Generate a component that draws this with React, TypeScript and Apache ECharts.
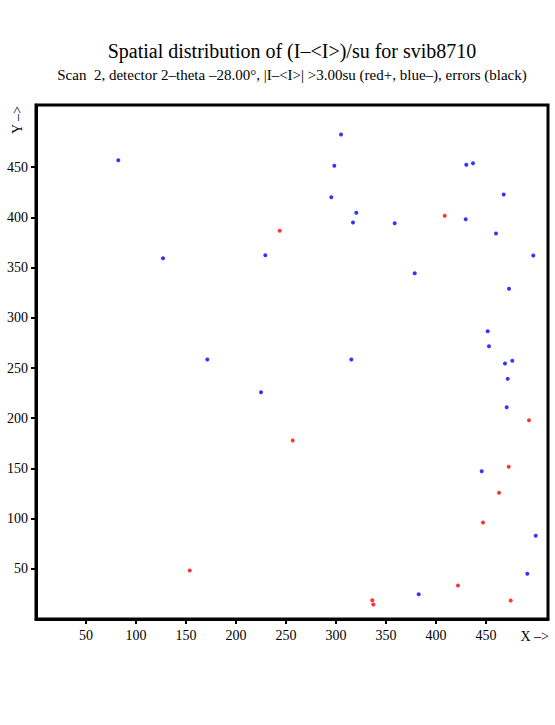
import React, { useEffect, useRef } from "react";
import * as echarts from "echarts";

const titleText = "Spatial distribution of (I\u2013<I>)/su for svib8710";
const subtitleText =
  "Scan  2, detector 2\u2013theta \u201328.00\u00b0, |I\u2013<I>| >3.00su (red+, blue\u2013), errors (black)";

const xTicks = [50, 100, 150, 200, 250, 300, 350, 400, 450];
const yTicks = [50, 100, 150, 200, 250, 300, 350, 400, 450];

// positive deviations (red)
const redX = [243.7, 408.7, 153.7, 256.7, 336.3, 337.3, 493, 472.7, 463, 447, 422, 474.7];
const redY = [386.7, 401.6, 48.3, 177.8, 18.7, 14.4, 198.0, 151.6, 125.7, 96.1, 33.4, 18.4];

// negative deviations (blue)
const blueX = [
  82.3, 127, 171.3, 305, 298.3, 295.3, 320.3, 317, 229.3, 315.3, 430.3, 437, 467.7, 429.7,
  358.7, 460, 497.3, 378.7, 473, 451.7, 453, 469, 476.3, 225, 471.7, 470.7, 445.7, 499.7,
  491.3, 382.7,
];
const blueY = [
  457.0, 359.4, 258.5, 482.6, 451.4, 420.1, 404.6, 394.9, 362.4, 258.5, 452.4, 454.0, 422.8,
  398.2, 394.2, 384.0, 362.1, 344.4, 328.9, 286.7, 271.7, 254.5, 257.2, 225.9, 239.2, 211.0,
  147.2, 82.9, 45.0, 24.7,
];

const FONT = "'Liberation Serif', 'Times New Roman', serif";

export default function App() {
  const ref = useRef<HTMLDivElement>(null);
  useEffect(() => {
    if (!ref.current) return;
    const chart = echarts.init(ref.current, undefined, { renderer: "svg" });
    const red = redX.map((x, i) => [x, redY[i]]);
    const blue = blueX.map((x, i) => [x, blueY[i]]);
    chart.setOption({
      animation: false,
      backgroundColor: "#ffffff",
      grid: {
        left: 36,
        right: 7,
        top: 105,
        bottom: 106,
        show: true,
        borderColor: "#000",
        borderWidth: 3,
        backgroundColor: "transparent",
      },
      xAxis: {
        type: "value",
        min: 0,
        max: 512,
        interval: 50,
        splitLine: { show: false },
        axisLine: { show: true, lineStyle: { color: "#000", width: 3 } },
        axisTick: {
          show: true,
          inside: false,
          length: 5,
          lineStyle: { color: "#000", width: 2 },
          customValues: xTicks,
        },
        axisLabel: {
          show: true,
          margin: 9,
          color: "#000",
          fontFamily: FONT,
          fontSize: 14,
          customValues: xTicks,
        },
      },
      yAxis: {
        type: "value",
        min: 0,
        max: 512,
        interval: 50,
        splitLine: { show: false },
        axisLine: { show: true, lineStyle: { color: "#000", width: 3 } },
        axisTick: {
          show: true,
          inside: false,
          length: 5,
          lineStyle: { color: "#000", width: 2 },
          customValues: yTicks,
        },
        axisLabel: {
          show: true,
          margin: 8,
          color: "#000",
          fontFamily: FONT,
          fontSize: 14,
          customValues: yTicks,
        },
      },
      graphic: [
        {
          type: "text",
          x: 292,
          y: 51,
          style: {
            text: titleText,
            font: `20px ${FONT}`,
            fill: "#000",
            textAlign: "center",
            textVerticalAlign: "middle",
          },
        },
        {
          type: "text",
          x: 292,
          y: 75,
          style: {
            text: subtitleText,
            font: `15px ${FONT}`,
            fill: "#000",
            textAlign: "center",
            textVerticalAlign: "middle",
          },
        },
        {
          type: "text",
          x: 549,
          y: 636,
          style: {
            text: "X \u2013>",
            font: `14px ${FONT}`,
            fill: "#000",
            textAlign: "right",
            textVerticalAlign: "middle",
          },
        },
        {
          type: "text",
          x: 17,
          y: 120,
          rotation: Math.PI / 2,
          style: {
            text: "Y \u2013>",
            font: `14px ${FONT}`,
            fill: "#000",
            textAlign: "center",
            textVerticalAlign: "middle",
          },
        },
      ],
      series: [
        {
          name: "errors",
          type: "scatter",
          data: [],
          symbol: "circle",
          symbolSize: 4,
          itemStyle: { color: "#000" },
        },
        {
          name: "red+",
          type: "scatter",
          data: red,
          symbol: "circle",
          symbolSize: 4,
          itemStyle: { color: "#ff0000" },
        },
        {
          name: "blue-",
          type: "scatter",
          data: blue,
          symbol: "circle",
          symbolSize: 4,
          itemStyle: { color: "#0000ff" },
        },
      ],
    });
    return () => chart.dispose();
  }, []);
  return <div ref={ref} style={{ width: 555, height: 725, position: "absolute", left: 0, top: 0 }} />;
}
